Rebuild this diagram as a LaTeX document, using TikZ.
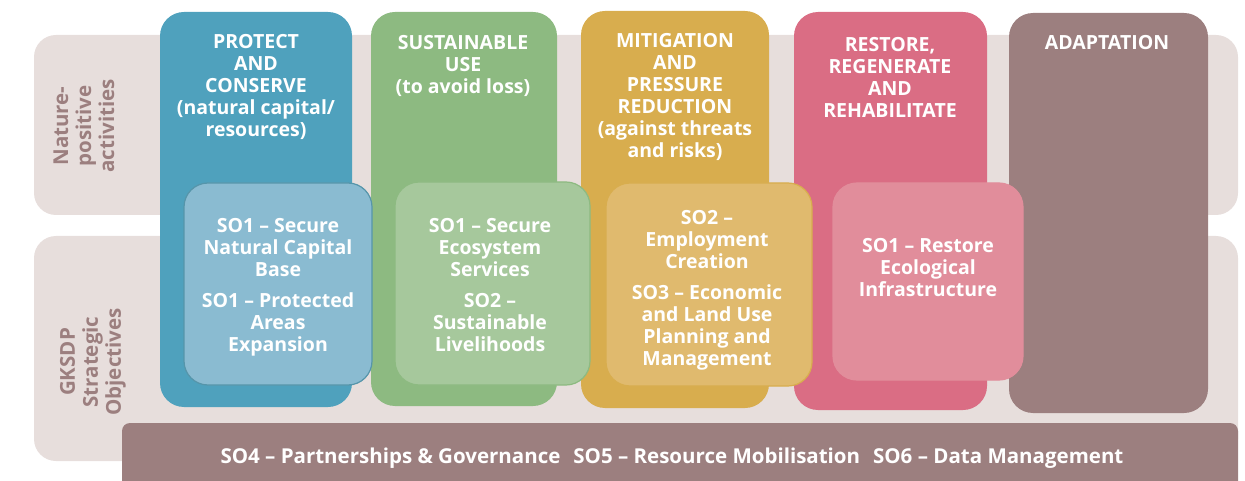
\documentclass[tikz,border=0pt]{standalone}
\usepackage{fontspec}
\setmainfont{Open Sans}
\definecolor{band}{HTML}{E7DEDC}
\definecolor{mauve}{HTML}{9C7F7F}
\definecolor{cblue}{HTML}{4FA1BD}
\definecolor{cbluein}{HTML}{8ABBD1}
\definecolor{cgreen}{HTML}{8DBA81}
\definecolor{cgreenin}{HTML}{A6C89C}
\definecolor{cyellow}{HTML}{D8AD4E}
\definecolor{cyellowin}{HTML}{E0BA6E}
\definecolor{cpink}{HTML}{DA6D84}
\definecolor{cpinkin}{HTML}{E18D9B}
\tikzset{
  bandbox/.style={fill=band, draw=none, rounded corners=22pt},
  colbox/.style={draw=none, rounded corners=24pt},
  innerbox/.style={rounded corners=24pt, line width=1.2pt},
  wtext/.style={text=white, font=\fontsize{19.5}{22}\selectfont\bfseries, align=center, inner sep=0pt, anchor=north},
  ltext/.style={text=mauve, font=\fontsize{20.5}{23}\selectfont\bfseries, align=center, inner sep=0pt, rotate=90},
}
\begin{document}
\begin{tikzpicture}[x=1pt,y=-1pt]
\useasboundingbox (0,0) rectangle (1245,481);
% bands
\path[bandbox] (34,35) rectangle (1238,215);
\path[bandbox] (34,236) rectangle (1238,461);
% bottom bar
\path[fill=mauve, rounded corners=8pt] (122,423) rectangle (1238,495);
\node[text=white, font=\fontsize{20.5}{22}\selectfont\bfseries, inner sep=0pt] (bar) at (672,458)
  {SO4 – Partnerships \& Governance\hspace{13pt}SO5 – Resource Mobilisation\hspace{13pt}SO6 – Data Management};
% left labels
\node[ltext] (nat) at (84,126) {Nature-\\positive\\activities};
\node[ltext] (gks) at (93,362) {GKSDP\\Strategic\\Objectives};
% columns
\path[colbox, fill=cblue] (160,12) rectangle (352,407);
\path[colbox, fill=cgreen] (371,12) rectangle (557,406);
\path[colbox, fill=cyellow] (581,11) rectangle (769,408);
\path[colbox, fill=cpink] (794,12) rectangle (987,410);
\path[colbox, fill=mauve] (1009,13) rectangle (1208,413);
% inner boxes
\path[innerbox, fill=cbluein, draw=cblue!85!black!90] (184,183) rectangle (372,385);
\path[innerbox, fill=cgreenin, draw=cgreen] (395,182) rectangle (590,385);
\path[innerbox, fill=cyellowin, draw=cyellow] (606,183) rectangle (812,386);
\path[innerbox, fill=cpinkin, draw=cpinkin] (833,183) rectangle (1023,380);
% headers
\node[wtext] (h1) at (256,34) {PROTECT\\AND\\CONSERVE\\(natural capital/\\resources)};
\node[wtext] (h2) at (463,35) {SUSTAINABLE\\USE\\(to avoid loss)};
\node[wtext] (h3) at (675,33) {MITIGATION\\AND\\PRESSURE\\REDUCTION\\(against threats\\and risks)};
\node[wtext] (h4) at (890,37) {RESTORE,\\REGENERATE\\AND\\REHABILITATE};
\node[wtext] (h5) at (1107,35) {ADAPTATION};
% inner texts
\node[wtext] (i1) at (278,218) {SO1 – Secure\\Natural Capital\\Base\\[9pt]SO1 – Protected\\Areas\\Expansion};
\node[wtext] (i2) at (490,218) {SO1 – Secure\\Ecosystem\\Services\\[9pt]SO2 –\\Sustainable\\Livelihoods};
\node[wtext] (i3) at (707,210) {SO2 –\\Employment\\Creation\\[9pt]SO3 – Economic\\and Land Use\\Planning and\\Management};
\node[wtext] (i4) at (928,238) {SO1 – Restore\\Ecological\\Infrastructure};
\end{tikzpicture}
\end{document}
